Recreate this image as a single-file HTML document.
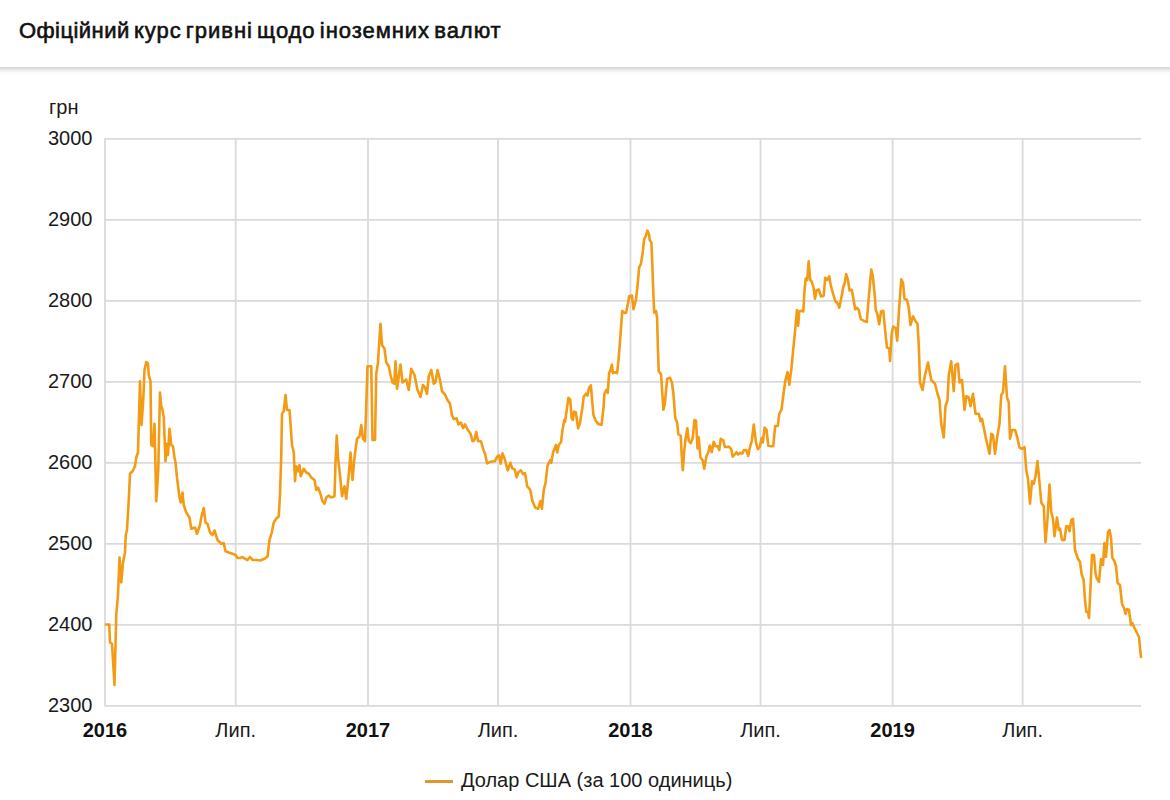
<!DOCTYPE html>
<html><head><meta charset="utf-8">
<style>
html,body{margin:0;padding:0;}
body{width:1170px;height:800px;overflow:hidden;background:#fff;position:relative;font-family:"Liberation Sans",sans-serif;color:#1a1a1a;}
.hdr{position:absolute;left:0;top:0;width:1170px;height:67px;background:#fff;z-index:2;}
.shadow{position:absolute;left:0;top:67px;width:1170px;height:8px;background:linear-gradient(#d9d9d9 0px,#d9d9d9 1px,#dddddd 1px,#dddddd 2px,#e6e6e6 2px,#e6e6e6 3px,#efefef 3px,#efefef 4px,#f5f5f5 4px,#f5f5f5 5px,#f9f9f9 5px,#f9f9f9 6px,#fbfbfb 6px,#fbfbfb 7px,#fdfdfd 7px,#fdfdfd 8px);z-index:1;}
.title{position:absolute;left:19px;top:17.5px;font-size:22px;font-weight:normal;-webkit-text-stroke:0.6px #111;white-space:nowrap;color:#111;letter-spacing:0.95px;word-spacing:-2.8px;}
.yl{position:absolute;left:0;width:92.5px;text-align:right;font-size:20px;line-height:22px;color:#1a1a1a;}
.unit{position:absolute;left:49px;top:96px;font-size:20px;line-height:22px;color:#1a1a1a;}
.xl{position:absolute;top:719px;width:100px;text-align:center;font-size:20px;line-height:22px;color:#1a1a1a;}
.xl.b{font-weight:bold;color:#111;}
.leg{position:absolute;left:461px;top:769px;font-size:20px;line-height:22px;color:#1a1a1a;white-space:nowrap;}
.legline{position:absolute;left:425px;top:780px;width:28px;height:3px;background:#e4962a;}
svg{position:absolute;left:0;top:0;}
</style></head><body>
<div class="hdr"><div class="title"><span style="letter-spacing:0.45px">Офіційний</span> курс гривні щодо іноземних валют</div></div>
<div class="shadow"></div>
<svg width="1170" height="800" viewBox="0 0 1170 800">
<g stroke="#dadada" stroke-width="1.8" fill="none">
<line x1="104.4" y1="138.80" x2="1141" y2="138.80"/>
<line x1="104.4" y1="219.80" x2="1141" y2="219.80"/>
<line x1="104.4" y1="300.80" x2="1141" y2="300.80"/>
<line x1="104.4" y1="381.80" x2="1141" y2="381.80"/>
<line x1="104.4" y1="462.80" x2="1141" y2="462.80"/>
<line x1="104.4" y1="543.80" x2="1141" y2="543.80"/>
<line x1="104.4" y1="624.80" x2="1141" y2="624.80"/>
<line x1="104.4" y1="705.80" x2="1141" y2="705.80"/>
<line x1="105.0" y1="138.8" x2="105.0" y2="705.8"/>
<line x1="235.7" y1="138.8" x2="235.7" y2="705.8"/>
<line x1="368.0" y1="138.8" x2="368.0" y2="705.8"/>
<line x1="498.0" y1="138.8" x2="498.0" y2="705.8"/>
<line x1="630.5" y1="138.8" x2="630.5" y2="705.8"/>
<line x1="760.5" y1="138.8" x2="760.5" y2="705.8"/>
<line x1="892.6" y1="138.8" x2="892.6" y2="705.8"/>
<line x1="1022.6" y1="138.8" x2="1022.6" y2="705.8"/>
</g>
<path d="M106,624.5 L109.25,624.5 L110,642.5 L112,643.75 L114.5,685 L116.25,615 L118,595 L119.5,557.5 L121.25,582.5 L123,562.5 L125,552.5 L125.75,535 L127,530 L128.75,500 L130,473.75 L132.5,471.25 L135,466.25 L136.25,457.5 L138,452.5 L138.75,425 L140,381.25 L141.5,425 L143.25,400 L144.5,370 L146.25,362 L148,363.75 L148.75,375 L150.5,381.25 L151.25,445 L153,446.25 L154.5,423.75 L156.25,501.25 L158.25,470 L160,392.5 L161.25,406.25 L162.5,410 L163.75,417.5 L165.5,461.25 L167,443.75 L168,455 L169.5,428.75 L171.25,445 L173,446.25 L174.5,457.5 L175.5,462.5 L177,477.5 L179.5,497.5 L180.75,502.5 L182.5,492.5 L183.75,505 L186.25,512.5 L189.5,517.5 L191.25,528.75 L195,527.5 L197,533.75 L200,525 L201.25,517.5 L203.75,508 L205.5,522.5 L207.5,523.75 L210,532.5 L212.5,535 L214.5,530.5 L217.5,540 L221.25,543.75 L222,543.75 L223.75,543 L225.5,551.25 L228.75,552.5 L232.5,553.75 L235.5,555 L237.5,558 L240,558 L242.5,557 L245,558.75 L247.5,560 L250,557 L252.5,560 L256.25,560 L260,560.5 L264.5,558.75 L267.5,556.5 L269.5,540 L271.75,532.5 L273.75,522.5 L276.25,518.75 L278.75,516.25 L280,495 L281.25,455 L282,413.75 L283.75,411.25 L285.5,395 L287,410 L289.5,410 L292,445 L293.75,452.5 L295,481.25 L296.25,466.25 L298,471.25 L299.5,465 L300.75,476.25 L303.75,468.75 L306.25,472.5 L308.75,473.75 L311.25,477.5 L314.5,480 L316.25,490 L318,487.5 L320,492.5 L322.5,501.25 L324.5,503.75 L326.25,497.5 L328.75,495.5 L331.25,497.5 L334.5,496.25 L335.5,462.5 L336.75,435.5 L338,457.5 L340,475 L342,496.25 L344.5,486.25 L346.25,498.75 L348.75,475 L350.5,452.5 L352.5,480 L354.5,457.5 L357,438.75 L359.5,436.25 L361.25,425 L363,438.75 L365,441.25 L366.25,405 L367.5,366.25 L371.25,366.25 L372.5,440 L375,440 L376.25,373.75 L378,362.5 L378.75,350 L380.5,323.75 L382,345 L384.5,348.75 L386.25,362.5 L388.75,366.25 L390.5,375 L392.5,382.5 L394.25,383.75 L395.5,361.25 L397,388.75 L399,375 L400.5,364.5 L402.5,382.5 L406.25,379.5 L408.75,390 L411.25,368.75 L414.5,375 L417.5,390 L420.5,397 L423,385 L425,387.5 L427,393.75 L428.75,376.25 L431.25,370 L433.75,383.75 L435.5,382.5 L437.5,370 L440,380 L442,391.25 L445,394.5 L447.5,400 L450,403.75 L451.9,415 L453.75,419.1 L456.6,418.4 L458.4,424.4 L460.9,422.5 L463.1,428.1 L465,424.4 L467.8,430 L470.6,433.75 L472.5,441.25 L474.4,440.3 L476.25,431.9 L478.1,441.25 L480.9,441.25 L483.4,449.7 L485.25,454.4 L487.1,463.4 L489.4,462.25 L492.2,461.5 L495,460.9 L497.25,456.6 L499.1,455.3 L500.6,463.75 L502.5,453.4 L504.4,458.1 L505.9,463.75 L507.75,470.3 L510.4,462.8 L512.25,468.4 L514.7,469.4 L516.6,477.25 L518.4,472.2 L520.9,470.3 L523.1,474.1 L525,473.1 L527.25,486.25 L530.25,490 L532.5,501.25 L535.3,507.8 L538.1,508.75 L540.4,501.25 L541.9,508.75 L543.75,490 L545.6,482.5 L547.5,465.6 L550.3,460 L551.25,462.8 L553.1,452.5 L555.9,445 L557.25,452.5 L558.75,445 L561,442.2 L562.5,430 L564.4,419.7 L565,421.9 L566.9,408.75 L568.4,397.9 L570.25,399.4 L571.6,418.1 L572.9,420 L574,411.6 L575.9,412.5 L578.1,428.4 L580,422.8 L582.25,408.75 L583.75,396.6 L586,393.75 L587.5,395.6 L589,388.1 L590.9,385.3 L592.2,401.25 L593.5,415.3 L595.9,420.9 L598.4,424.1 L601.6,424.7 L603.4,408.75 L604.4,393.75 L606.25,390 L607.75,392.8 L609.1,373.1 L610.4,370.3 L611.9,364.7 L612.8,373.1 L614.7,372.2 L617.1,373.1 L618.4,360.9 L619.4,348.75 L620.6,333.7 L622.2,311 L624.3,312.9 L626.2,312.6 L627.5,306.1 L629.2,296.3 L631.9,295.5 L633.5,309.3 L636,299.6 L637.6,285 L639.2,267.1 L640.9,263.9 L642.5,254.1 L644.1,239.5 L645.7,236.2 L647.4,230.6 L649,234.6 L649.8,240.3 L651.4,242.7 L652.2,260.6 L653,285 L654.2,312.6 L656,311 L657.1,317.5 L657.8,345 L658.75,371.25 L661,374.1 L662.1,390 L663.4,409.7 L664.75,404.1 L667.2,378.75 L670,377.8 L671.9,382.5 L673.4,393.75 L675.25,418.1 L677.25,423 L678.3,434.25 L680.7,435.75 L681.75,456 L682.8,470.25 L684.3,450 L685.5,439.5 L687.3,428.25 L688.8,441 L690.75,443.25 L692.7,438 L694.5,420 L696,420.75 L697.5,448.5 L698.7,437.25 L700.5,457.5 L702.75,460.5 L704.25,468.75 L706.5,456 L708.3,452.25 L709.8,445.5 L711.75,452.25 L713.7,441.75 L715.5,446.25 L717.75,446.25 L719.25,450 L720.75,438.75 L723.3,440.25 L724.8,447 L726.75,447 L729,446.7 L731.25,449.25 L732.75,456.75 L734.7,454.5 L736.5,452.25 L738,454.5 L740.25,452.7 L742.2,453.75 L744,450 L746.25,450 L748.2,456 L750,447 L751.8,441 L753.75,424.5 L756,442.5 L757.8,449.25 L759.75,447 L761.7,438 L762.75,442.5 L764.7,427.5 L766.5,429.75 L768.3,445.5 L770.7,446.25 L773.25,446.25 L775.2,426 L777.75,426 L779.25,414 L781.5,409.5 L783,397.5 L785.25,381 L787.5,372 L789.3,384.75 L790.5,375 L791.3,370 L793.25,349 L795.2,329.5 L797,310 L798.2,325.75 L799.25,311.5 L801.5,310.75 L803.3,311.5 L804.5,290.5 L805.7,278.5 L807.2,280 L808.7,261.25 L810.2,280 L811.7,281.5 L813.5,287.5 L815,298.75 L816.5,290.5 L818.75,289.3 L821,296.5 L823.7,295.75 L825.2,277.75 L827.3,280 L829.25,276.25 L830.75,285.25 L833,293.5 L835.25,301 L837.5,303.25 L839.3,307.75 L841.25,298 L843.2,287.5 L844.7,283 L846.2,274 L848,280 L849.5,290.5 L851.75,289.75 L853.7,300.25 L855.2,309.25 L857,307.75 L858.8,310 L860.75,319 L863,320.5 L866.75,322 L869,295 L871.25,269.5 L872.75,275.5 L874.7,295 L875.75,310 L877.25,313.75 L879.2,324.25 L881,311.5 L883.25,310.75 L885.2,331 L887,347.5 L889.25,348.25 L890,361 L891.8,332.5 L893.3,326.5 L895.7,328 L897.2,340.75 L899,310 L901.25,279.25 L903,282.5 L904.5,298.75 L907,300 L908.75,307.5 L910.5,325 L913,316.25 L915.5,321.25 L917.5,323.75 L918.75,345 L920,382.5 L922.5,390 L925,375 L928,362.5 L931.25,380 L935,383.75 L937.5,393.75 L939.5,400 L941.25,423.75 L943.75,437.5 L945.5,406.25 L947.5,400 L948.75,375 L951.25,361.25 L953.75,391.25 L955.5,365 L958,363.75 L959.5,382.5 L962,380 L964.5,410 L966.25,396.25 L968.75,397.5 L970.5,406.25 L973,393.75 L975.5,413.75 L978.75,413.75 L980.5,421.25 L982,418.75 L983.75,427.5 L986.25,440 L989.5,453.75 L991.25,433.75 L993,435 L995,453.75 L997.5,435 L999.5,423.75 L1001.25,395 L1003,392.5 L1005,366.25 L1007,397.5 L1008.75,402.5 L1010,438.75 L1012,430 L1015,430 L1017,436.25 L1019.5,447.5 L1022,448.75 L1024.5,447 L1026.25,470 L1028,478.75 L1030,503.75 L1032,481.25 L1033.75,483.75 L1035.5,476.25 L1037.5,461.25 L1039.5,482.5 L1041.25,502.5 L1043.75,506.25 L1045.5,542.5 L1047.5,518.75 L1049.5,484.5 L1051.25,512.5 L1053,518.75 L1054.5,536.25 L1057,517.5 L1058.75,530 L1060,528.75 L1062,540 L1064.5,540 L1066.25,526.25 L1068,526.25 L1069.5,531.25 L1071.25,520 L1073,518.75 L1075,550 L1078,558.75 L1080,562 L1081.6,574 L1083.6,580 L1085,600 L1086.4,612 L1088,612 L1089,618 L1090.4,590 L1092,555 L1094,555 L1095.6,574 L1097,579 L1099,582 L1101,559 L1103,565 L1104.4,543 L1106,557 L1108,532 L1109.6,530 L1111,538 L1112.4,558 L1114.4,561 L1116,566 L1117.6,583 L1120,585 L1122,604 L1124,608 L1125.6,614 L1127,609 L1129,610 L1131,625 L1132.4,623 L1134,627 L1137,633 L1139,637 L1140,648 L1141,657" fill="none" stroke="#f39b15" stroke-width="2.6" stroke-linejoin="round" stroke-linecap="round"/>
</svg>
<div class="unit">грн</div>
<div class="yl" style="top:126.8px">3000</div>
<div class="yl" style="top:207.8px">2900</div>
<div class="yl" style="top:288.8px">2800</div>
<div class="yl" style="top:369.8px">2700</div>
<div class="yl" style="top:450.8px">2600</div>
<div class="yl" style="top:531.8px">2500</div>
<div class="yl" style="top:612.8px">2400</div>
<div class="yl" style="top:693.8px">2300</div>
<div class="xl b" style="left:55.0px">2016</div>
<div class="xl" style="left:185.7px">Лип.</div>
<div class="xl b" style="left:318.0px">2017</div>
<div class="xl" style="left:448.0px">Лип.</div>
<div class="xl b" style="left:580.5px">2018</div>
<div class="xl" style="left:710.5px">Лип.</div>
<div class="xl b" style="left:842.6px">2019</div>
<div class="xl" style="left:972.6px">Лип.</div>
<div class="legline"></div>
<div class="leg">Долар США (за 100 одиниць)</div>
</body></html>
